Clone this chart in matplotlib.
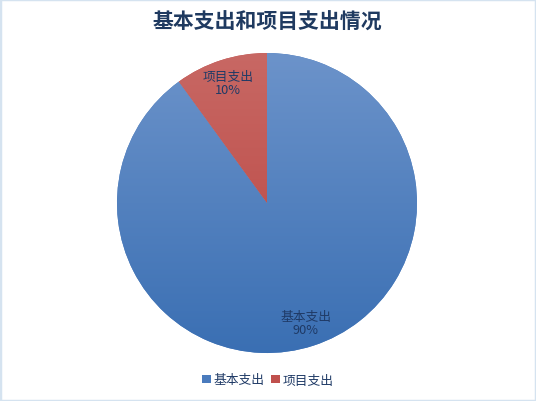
import numpy as np
import matplotlib.pyplot as plt
from matplotlib.colors import LinearSegmentedColormap
from matplotlib.patches import Rectangle

plt.rcParams['font.family'] = ['Noto Sans CJK SC', 'DejaVu Sans']

title = '基本支出和项目支出情况'
labels = ['基本支出', '项目支出']
values = [90, 10]
colors_top = ['#6c93ca', '#c86864']
colors_bottom = ['#3a6fb3', '#b8423e']
colors_legend = ['#4a7bbd', '#c0504d']
text_color = '#1f3a66'

fig = plt.figure(figsize=(5.36, 4.02), dpi=100)
fig.patches.append(Rectangle((0, 0), 1, 1, transform=fig.transFigure,
                             fill=False, edgecolor='#d5e3f0', linewidth=2.5))

# pie centre ~ (267, 204) px, radius ~150 px
ax = fig.add_axes([117 / 536, 48 / 402, 300 / 536, 300 / 402])
wedges, _ = ax.pie(values, startangle=90, counterclock=False, radius=1,
                   colors=colors_legend, wedgeprops=dict(linewidth=0))
ax.set_xlim(-1, 1)
ax.set_ylim(-1, 1)
ax.set_aspect('equal')
ax.axis('off')

# vertical gradient inside each wedge
grad = np.linspace(0, 1, 256).reshape(-1, 1)
for w, ct, cb in zip(wedges, colors_top, colors_bottom):
    cmap = LinearSegmentedColormap.from_list('g', [cb, ct])
    im = ax.imshow(grad, cmap=cmap, extent=(-1, 1, -1, 1), origin='lower',
                   aspect='auto', zorder=2)
    im.set_clip_path(w)

total = sum(values)
ang = 90.0
for lab, v in zip(labels, values):
    span = 360.0 * v / total
    mid = np.deg2rad(ang - span / 2)
    ang -= span
    r = 0.84
    ax.text(r * np.cos(mid), r * np.sin(mid), f'{lab}\n{v}%', ha='center',
            va='center', fontsize=9.2, color=text_color, linespacing=1.05,
            zorder=3)

fig.text(0.498, 1 - 22 / 402, title, ha='center', va='center', fontsize=15,
         fontweight='bold', color='#1f3a60')

handles = [Rectangle((0, 0), 1, 1, facecolor=c) for c in colors_legend]
fig.legend(handles, labels, loc='center', bbox_to_anchor=(0.5, 1 - 381 / 402),
           ncol=2, frameon=False, fontsize=9.2, handlelength=0.65,
           handleheight=0.65, handletextpad=0.25, columnspacing=0.5,
           labelcolor=text_color)

fig.savefig('out.png', dpi=100)
